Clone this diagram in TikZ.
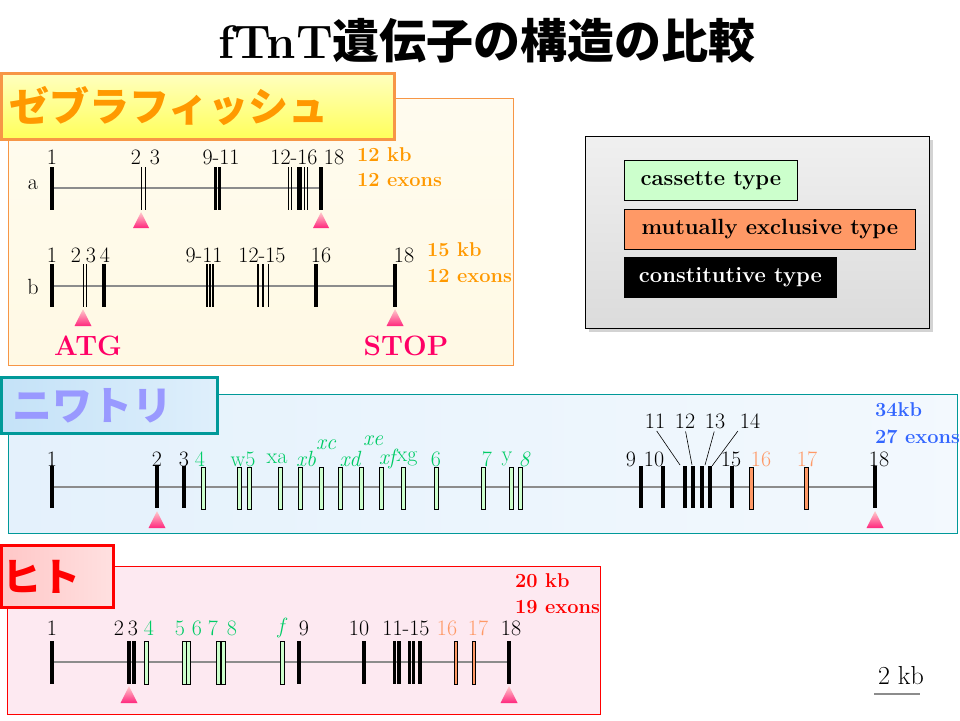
\documentclass[tikz,border=0pt]{standalone}
\usepackage{fontspec}
\usepackage{tikz}
\usetikzlibrary{positioning, shapes, shadows}
\newfontfamily\jp{Noto Sans CJK JP}
\definecolor{zfo}{RGB}{247,150,70}
\definecolor{zftxt}{RGB}{255,153,0}
\definecolor{zfbg}{RGB}{255,249,228}
\definecolor{ckteal}{RGB}{0,153,153}
\definecolor{cktxt}{RGB}{153,153,255}
\definecolor{ckbg}{RGB}{228,241,252}
\definecolor{cktitle}{RGB}{196,226,248}
\definecolor{hsred}{RGB}{255,0,0}
\definecolor{hsbg}{RGB}{253,233,241}
\definecolor{casg}{RGB}{204,255,204}
\definecolor{mutx}{RGB}{255,153,102}
\definecolor{gtxt}{RGB}{0,204,102}
\definecolor{kbblue}{RGB}{51,102,255}
\definecolor{atgpink}{RGB}{255,0,102}
\definecolor{introngray}{RGB}{140,140,140}
\newcommand{\lsize}{\fontsize{22}{24}\selectfont}

\begin{document}
\begin{tikzpicture}[x=1pt, y=-1pt]
\tikzstyle{lab}=[font=\lsize, inner sep=0pt]
\tikzstyle{glab}=[lab, text=gtxt]
\tikzstyle{gilab}=[glab, font=\lsize\itshape]
\tikzstyle{olab}=[lab, text=mutx]
\tikzstyle{kb}=[font=\bfseries\fontsize{20}{22}\selectfont, inner sep=0pt, anchor=west]
\tikzstyle{ttl}=[anchor=north west, line width=3pt, inner xsep=8pt, align=left, font=\jp\bfseries\fontsize{40}{42}\selectfont]
\tikzstyle{panel}=[anchor=north west, inner sep=0pt, line width=1pt]
\tikzstyle{intron}=[draw=introngray, line width=1.8pt]
\tikzstyle{cex}=[line width=3.3pt]
\tikzstyle{midex}=[line width=1.6pt]
\tikzstyle{thinex}=[line width=1pt]
\tikzstyle{cas}=[draw=black, fill=casg, line width=0.8pt]
\tikzstyle{mut}=[draw=black, fill=mutx, line width=0.8pt]
\tikzstyle{tri}=[top color=pink!90!red!60, bottom color=atgpink!85!white]
\tikzstyle{leg}=[draw=black, line width=0.8pt, minimum height=40pt, inner sep=0pt, font=\bfseries\fontsize{22}{24}\selectfont]
\useasboundingbox (0,0) rectangle (960,720);

\node[font=\bfseries\fontsize{47}{50}\selectfont] (title) at (487,41) {fTnT{\jp 遺伝子の構造の比較}};

% zebrafish
\node[panel, draw=zfo, top color=zfbg!60!white, bottom color=zfbg, minimum width=505pt, minimum height=267pt] (zfp) at (8,98) {};
\node[ttl, draw=zfo, top color=yellow!25, bottom color=yellow!65, text=zftxt, text width=377pt, minimum height=66pt] (zft) at (0,72) {ゼブラフィッシュ};

\node[lab] (ra) at (33,185) {a};
\draw[intron] (52,188) -- (321,188);
\foreach \x in {52,321} \draw[cex] (\x,167) -- (\x,210);
\foreach \x in {215.5,219.5,298.5,301} \draw[cex, line width=2.6pt] (\x,167) -- (\x,210);
\foreach \x in {141,145,288.3,291,304,307} \draw[thinex] (\x,167) -- (\x,210);
\foreach \x in {141,321} \shade[tri] (\x-8,228) -- (\x,212) -- (\x+8,228) -- cycle;
\foreach \x/\t [count=\i] in {52/1, 136/2, 155/3, 221/9-11, 294/12-16, 334/18}
  \node[lab] (la\i) at (\x,157) {\t};
\node[kb, text=zftxt] (akb) at (357,155) {12 kb};
\node[kb, text=zftxt] (aex) at (357,180) {12 exons};

\node[lab] (rb) at (33,287) {b};
\draw[intron] (52,286) -- (395,286);
\foreach \x in {52,104,316,395} \draw[cex] (\x,264) -- (\x,307);
\foreach \x in {207,210,213,258,263,268.5} \draw[midex] (\x,264) -- (\x,307);
\foreach \x in {83,86} \draw[thinex] (\x,264) -- (\x,307);
\foreach \x in {83,395} \shade[tri] (\x-8.5,326) -- (\x,309) -- (\x+8.5,326) -- cycle;
\foreach \x/\t [count=\i] in {52/1, 76/2, 91/3, 105/4, 204/9-11, 262/12-15, 321/16, 404/18}
  \node[lab] (lb\i) at (\x,255) {\t};
\node[kb, text=zftxt] (bkb) at (427,250) {15 kb};
\node[kb, text=zftxt] (bex) at (427,276) {12 exons};
\node[font=\bfseries\fontsize{28}{30}\selectfont, text=atgpink] (atg) at (88,346) {ATG};
\node[font=\bfseries\fontsize{28}{30}\selectfont, text=atgpink] (stop) at (406,346) {STOP};

% legend
\node[panel, draw=black, top color=gray!12, bottom color=gray!28, drop shadow={opacity=0.35, shadow xshift=3pt, shadow yshift=-3pt}, minimum width=344pt, minimum height=192pt] (legbox) at (585,136) {};
\node[leg, fill=casg, minimum width=173pt, anchor=north west] (lcas) at (624,160) {cassette type};
\node[leg, fill=mutx, minimum width=291pt, below right=8pt and 0pt of lcas.south west] (lmut) {mutually exclusive type};
\node[leg, fill=black, text=white, minimum width=212pt, below right=7pt and 0pt of lmut.south west] (lcon) {constitutive type};

% chicken
\node[panel, draw=ckteal, left color=ckbg, right color=ckbg!45!white, minimum width=949pt, minimum height=139pt] (ckp) at (8,394) {};
\node[ttl, draw=ckteal, left color=cktitle, right color=cktitle!55!white, text=cktxt, inner xsep=11pt, text width=194pt, minimum height=56pt] (ckt) at (0,376) {ニワトリ};

\draw[intron] (52,487) -- (875,487);
\foreach \x in {52,157,184,641,663,685,693,702,710,732,875} \draw[cex] (\x,466) -- (\x,508);
\foreach \x in {203,239,249,280,300,321,340,361,381,403,436,483,511,520} \draw[cas] (\x-2,467) rectangle (\x+2,509);
\foreach \x in {751,806} \draw[mut] (\x-2,467) rectangle (\x+2,509);
\foreach \x in {157,875} \shade[tri] (\x-8.5,528) -- (\x,511) -- (\x+8.5,528) -- cycle;
\foreach \x/\t [count=\i] in {52/1, 157/2, 184/3, 631/9, 654/10, 731/15, 879/18}
  \node[lab] (lc\i) at (\x,459) {\t};
\foreach \x/\t [count=\i] in {200/4, 243/w5, 277/xa, 407/xg, 436/6, 487/7, 507/y}
  \node[glab] (gc\i) at (\x,459) {\t};
\foreach \x/\t [count=\i] in {306/xb, 350/xd, 387/xf, 524/8}
  \node[gilab] (ic\i) at (\x,459) {\t};
\node[gilab] (xc) at (326,445) {xc};
\node[gilab] (xe) at (373,441) {xe};
\node[olab] (oc1) at (761,459) {16};
\node[olab] (oc2) at (807,459) {17};
\node[lab] (c11) at (655,421) {11};
\node[lab] (c12) at (685,421) {12};
\node[lab] (c13) at (715,421) {13};
\node[lab] (c14) at (750,421) {14};
\coordinate (t11) at (680,465);
\coordinate (t12) at (692,465);
\coordinate (t13) at (705,465);
\coordinate (t14) at (712,466);
\draw[line width=0.6pt, shorten <=3pt] (c11.south) -- (t11);
\draw[line width=0.6pt, shorten <=3pt] (c12.south) -- (t12);
\draw[line width=0.6pt, shorten <=3pt] (c13.south) -- (t13);
\draw[line width=0.6pt, shorten <=3pt] (c14.south west) -- (t14);
\node[kb, text=kbblue] (ckb) at (875,410) {34kb};
\node[kb, text=kbblue] (cex) at (875,437) {27 exons};

% human
\node[panel, draw=hsred, fill=hsbg, minimum width=593pt, minimum height=148pt] (hsp) at (7,566) {};
\node[ttl, draw=hsred, left color=red!22, right color=red!12, text=hsred, inner xsep=1pt, text width=110pt, minimum height=62pt, font=\jp\bfseries\fontsize{39}{42}\selectfont] (hst) at (0,544) {ヒト};

\draw[intron] (52,662) -- (509,662);
\foreach \x in {52,129,133.7,299,364,394.3,399,409.3,413.3,420,509} \draw[cex, line width=3.6pt] (\x,641) -- (\x,684);
\foreach \x in {146.5,184.4,188.6,218,223,282.7} \draw[cas] (\x-2.1,641) rectangle (\x+2.1,684);
\foreach \x in {456,474} \draw[mut] (\x-1.7,641) rectangle (\x+1.7,684);
\foreach \x in {129,509} \shade[tri] (\x-8.5,703) -- (\x,686) -- (\x+8.5,703) -- cycle;
\foreach \x/\t [count=\i] in {52/1, 119/2, 133/3, 304/9, 359/10, 406/11-15, 511/18}
  \node[lab] (lh\i) at (\x,628) {\t};
\foreach \x/\t [count=\i] in {149/4, 180/5, 197/6, 213/7, 232/8}
  \node[glab] (gh\i) at (\x,628) {\t};
\node[gilab] (hf) at (281,628) {f};
\node[olab] (oh1) at (447,628) {16};
\node[olab] (oh2) at (478,628) {17};
\node[kb, text=hsred] (hkb) at (515,581) {20 kb};
\node[kb, text=hsred] (hex) at (515,607) {19 exons};

% scale
\node[lab, font=\fontsize{26}{28}\selectfont] (skb) at (901,676) {2 kb};
\coordinate (s1) at (874,694);
\coordinate (s2) at (920,694);
\draw[intron, line width=2pt] (s1) -- (s2);
\end{tikzpicture}
\end{document}
